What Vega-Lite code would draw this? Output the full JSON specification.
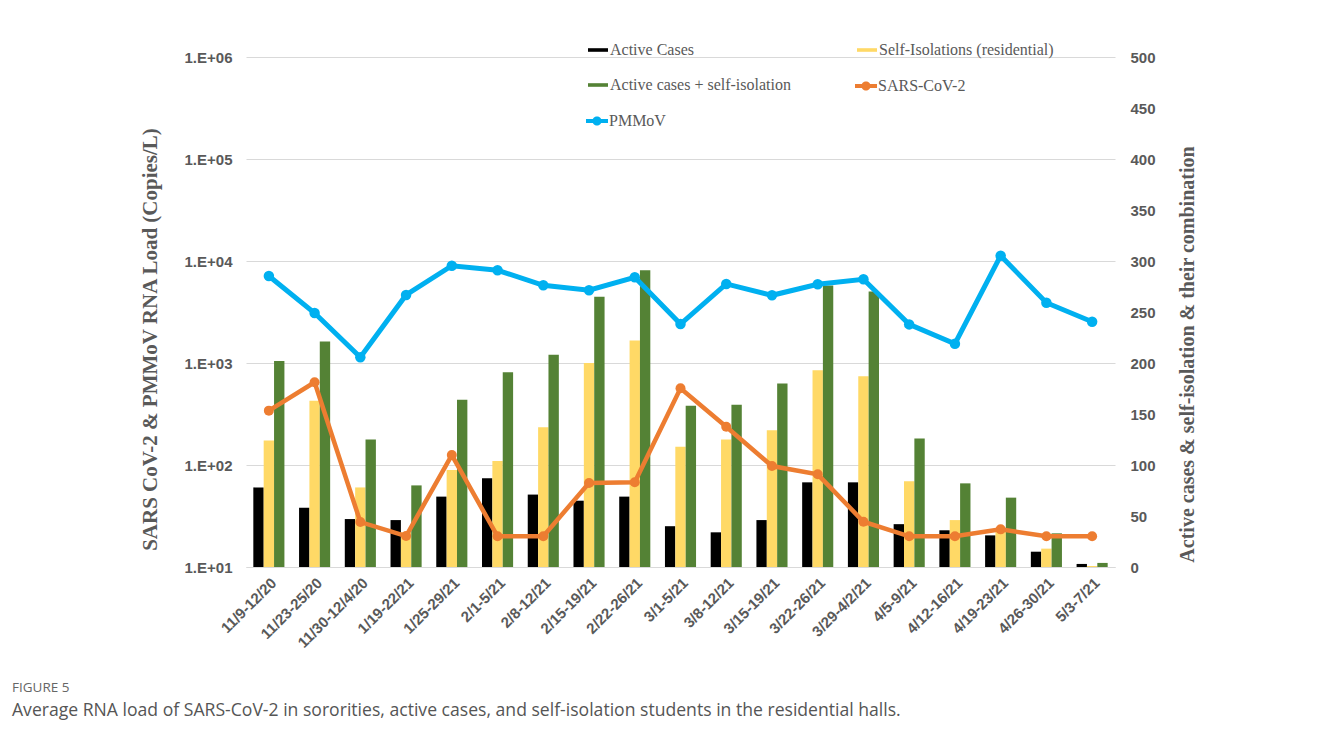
{
  "$schema": "https://vega.github.io/schema/vega-lite/v6.json",
  "autosize": {"type": "none"},
  "width": 869,
  "height": 510,
  "padding": {"left": 246, "top": 57, "right": 215, "bottom": 176},
  "background": "white",
  "config": {"font": "Liberation Sans", "view": {"stroke": null}},
  "title": {
    "text": "FIGURE 5",
    "subtitle": "Average RNA load of SARS-CoV-2 in sororities, active cases, and self-isolation students in the residential halls.",
    "orient": "bottom", "anchor": "start", "frame": "group", "dx": -234, "offset": 31,
    "font": "Open Sans", "fontSize": 13.5, "fontWeight": "normal", "color": "#666666",
    "subtitleFont": "Open Sans", "subtitleFontSize": 17.6, "subtitleColor": "#555555", "subtitlePadding": 7
  },
  "datasets": {
    "counts": [
      {"week": "11/9-12/20", "series": "Active Cases", "count": 78},
      {"week": "11/9-12/20", "series": "Self-Isolations (residential)", "count": 124},
      {"week": "11/9-12/20", "series": "Active cases + self-isolation", "count": 202},
      {"week": "11/23-25/20", "series": "Active Cases", "count": 58},
      {"week": "11/23-25/20", "series": "Self-Isolations (residential)", "count": 163},
      {"week": "11/23-25/20", "series": "Active cases + self-isolation", "count": 221},
      {"week": "11/30-12/4/20", "series": "Active Cases", "count": 47},
      {"week": "11/30-12/4/20", "series": "Self-Isolations (residential)", "count": 78},
      {"week": "11/30-12/4/20", "series": "Active cases + self-isolation", "count": 125},
      {"week": "1/19-22/21", "series": "Active Cases", "count": 46},
      {"week": "1/19-22/21", "series": "Self-Isolations (residential)", "count": 34},
      {"week": "1/19-22/21", "series": "Active cases + self-isolation", "count": 80},
      {"week": "1/25-29/21", "series": "Active Cases", "count": 69},
      {"week": "1/25-29/21", "series": "Self-Isolations (residential)", "count": 95},
      {"week": "1/25-29/21", "series": "Active cases + self-isolation", "count": 164},
      {"week": "2/1-5/21", "series": "Active Cases", "count": 87},
      {"week": "2/1-5/21", "series": "Self-Isolations (residential)", "count": 104},
      {"week": "2/1-5/21", "series": "Active cases + self-isolation", "count": 191},
      {"week": "2/8-12/21", "series": "Active Cases", "count": 71},
      {"week": "2/8-12/21", "series": "Self-Isolations (residential)", "count": 137},
      {"week": "2/8-12/21", "series": "Active cases + self-isolation", "count": 208},
      {"week": "2/15-19/21", "series": "Active Cases", "count": 65},
      {"week": "2/15-19/21", "series": "Self-Isolations (residential)", "count": 200},
      {"week": "2/15-19/21", "series": "Active cases + self-isolation", "count": 265},
      {"week": "2/22-26/21", "series": "Active Cases", "count": 69},
      {"week": "2/22-26/21", "series": "Self-Isolations (residential)", "count": 222},
      {"week": "2/22-26/21", "series": "Active cases + self-isolation", "count": 291},
      {"week": "3/1-5/21", "series": "Active Cases", "count": 40},
      {"week": "3/1-5/21", "series": "Self-Isolations (residential)", "count": 118},
      {"week": "3/1-5/21", "series": "Active cases + self-isolation", "count": 158},
      {"week": "3/8-12/21", "series": "Active Cases", "count": 34},
      {"week": "3/8-12/21", "series": "Self-Isolations (residential)", "count": 125},
      {"week": "3/8-12/21", "series": "Active cases + self-isolation", "count": 159},
      {"week": "3/15-19/21", "series": "Active Cases", "count": 46},
      {"week": "3/15-19/21", "series": "Self-Isolations (residential)", "count": 134},
      {"week": "3/15-19/21", "series": "Active cases + self-isolation", "count": 180},
      {"week": "3/22-26/21", "series": "Active Cases", "count": 83},
      {"week": "3/22-26/21", "series": "Self-Isolations (residential)", "count": 193},
      {"week": "3/22-26/21", "series": "Active cases + self-isolation", "count": 276},
      {"week": "3/29-4/2/21", "series": "Active Cases", "count": 83},
      {"week": "3/29-4/2/21", "series": "Self-Isolations (residential)", "count": 187},
      {"week": "3/29-4/2/21", "series": "Active cases + self-isolation", "count": 270},
      {"week": "4/5-9/21", "series": "Active Cases", "count": 42},
      {"week": "4/5-9/21", "series": "Self-Isolations (residential)", "count": 84},
      {"week": "4/5-9/21", "series": "Active cases + self-isolation", "count": 126},
      {"week": "4/12-16/21", "series": "Active Cases", "count": 36},
      {"week": "4/12-16/21", "series": "Self-Isolations (residential)", "count": 46},
      {"week": "4/12-16/21", "series": "Active cases + self-isolation", "count": 82},
      {"week": "4/19-23/21", "series": "Active Cases", "count": 31},
      {"week": "4/19-23/21", "series": "Self-Isolations (residential)", "count": 37},
      {"week": "4/19-23/21", "series": "Active cases + self-isolation", "count": 68},
      {"week": "4/26-30/21", "series": "Active Cases", "count": 15},
      {"week": "4/26-30/21", "series": "Self-Isolations (residential)", "count": 18},
      {"week": "4/26-30/21", "series": "Active cases + self-isolation", "count": 33},
      {"week": "5/3-7/21", "series": "Active Cases", "count": 3},
      {"week": "5/3-7/21", "series": "Self-Isolations (residential)", "count": 1},
      {"week": "5/3-7/21", "series": "Active cases + self-isolation", "count": 4}
    ],
    "rna": [
      {"week": "11/9-12/20", "target": "SARS-CoV-2", "load": 341},
      {"week": "11/23-25/20", "target": "SARS-CoV-2", "load": 647},
      {"week": "11/30-12/4/20", "target": "SARS-CoV-2", "load": 27.6},
      {"week": "1/19-22/21", "target": "SARS-CoV-2", "load": 20.1},
      {"week": "1/25-29/21", "target": "SARS-CoV-2", "load": 125},
      {"week": "2/1-5/21", "target": "SARS-CoV-2", "load": 20},
      {"week": "2/8-12/21", "target": "SARS-CoV-2", "load": 20},
      {"week": "2/15-19/21", "target": "SARS-CoV-2", "load": 66.7},
      {"week": "2/22-26/21", "target": "SARS-CoV-2", "load": 67.7},
      {"week": "3/1-5/21", "target": "SARS-CoV-2", "load": 565},
      {"week": "3/8-12/21", "target": "SARS-CoV-2", "load": 237},
      {"week": "3/15-19/21", "target": "SARS-CoV-2", "load": 97.7},
      {"week": "3/22-26/21", "target": "SARS-CoV-2", "load": 81},
      {"week": "3/29-4/2/21", "target": "SARS-CoV-2", "load": 27.8},
      {"week": "4/5-9/21", "target": "SARS-CoV-2", "load": 20},
      {"week": "4/12-16/21", "target": "SARS-CoV-2", "load": 20},
      {"week": "4/19-23/21", "target": "SARS-CoV-2", "load": 23.4},
      {"week": "4/26-30/21", "target": "SARS-CoV-2", "load": 20},
      {"week": "5/3-7/21", "target": "SARS-CoV-2", "load": 20},
      {"week": "11/9-12/20", "target": "PMMoV", "load": 7130},
      {"week": "11/23-25/20", "target": "PMMoV", "load": 3090},
      {"week": "11/30-12/4/20", "target": "PMMoV", "load": 1140},
      {"week": "1/19-22/21", "target": "PMMoV", "load": 4650},
      {"week": "1/25-29/21", "target": "PMMoV", "load": 8990},
      {"week": "2/1-5/21", "target": "PMMoV", "load": 8110},
      {"week": "2/8-12/21", "target": "PMMoV", "load": 5780},
      {"week": "2/15-19/21", "target": "PMMoV", "load": 5170},
      {"week": "2/22-26/21", "target": "PMMoV", "load": 6920},
      {"week": "3/1-5/21", "target": "PMMoV", "load": 2410},
      {"week": "3/8-12/21", "target": "PMMoV", "load": 5960},
      {"week": "3/15-19/21", "target": "PMMoV", "load": 4610},
      {"week": "3/22-26/21", "target": "PMMoV", "load": 5920},
      {"week": "3/29-4/2/21", "target": "PMMoV", "load": 6620},
      {"week": "4/5-9/21", "target": "PMMoV", "load": 2390},
      {"week": "4/12-16/21", "target": "PMMoV", "load": 1545},
      {"week": "4/19-23/21", "target": "PMMoV", "load": 11270},
      {"week": "4/26-30/21", "target": "PMMoV", "load": 3900},
      {"week": "5/3-7/21", "target": "PMMoV", "load": 2540}
    ]
  },
  "encoding": {
    "x": {
      "field": "week", "type": "nominal", "sort": null,
      "scale": {"paddingInner": 0.32, "paddingOuter": 0.16},
      "axis": {
        "title": null, "labelAngle": -45, "labelFontSize": 15, "labelFontWeight": "bold",
        "labelColor": "#595959", "labelPadding": 8, "ticks": false,
        "domainColor": "#d9d9d9", "domainWidth": 1, "grid": false
      }
    }
  },
  "layer": [
    {
      "data": {"name": "counts"},
      "mark": {"type": "bar"},
      "encoding": {
        "xOffset": {
          "field": "series", "type": "nominal",
          "sort": ["Active Cases", "Self-Isolations (residential)", "Active cases + self-isolation"],
          "scale": {"paddingInner": 0, "paddingOuter": 0}
        },
        "y": {
          "field": "count", "type": "quantitative",
          "scale": {"domain": [0, 500], "nice": false, "zero": true},
          "axis": {
            "orient": "right", "values": [0, 50, 100, 150, 200, 250, 300, 350, 400, 450, 500],
            "grid": false, "domain": false, "ticks": false,
            "labelFontSize": 15, "labelFontWeight": "bold", "labelColor": "#595959", "labelPadding": 15,
            "title": "Active cases & self-isolation & their combination",
            "titleFont": "Liberation Serif", "titleFontSize": 20, "titleFontWeight": "bold", "titleColor": "#595959",
            "titleAngle": 270, "titleAlign": "center", "titleBaseline": "middle", "titleX": 72, "titleY": 297
          }
        },
        "color": {
          "field": "series", "type": "nominal",
          "scale": {
            "domain": ["Active Cases", "Active cases + self-isolation", "Self-Isolations (residential)"],
            "range": ["#000000", "#548235", "#FFD966"]
          },
          "legend": {
            "orient": "none", "legendX": 342, "legendY": -17, "title": null, "columns": 2,
            "columnPadding": 66, "rowPadding": 17, "padding": 0,
            "symbolType": "M-1,-0.18H1V0.18H-1Z", "symbolSize": 400, "symbolStrokeWidth": 0,
            "labelFont": "Liberation Serif", "labelFontSize": 16, "labelColor": "#595959",
            "labelOffset": 2, "labelLimit": 300
          }
        }
      }
    },
    {
      "data": {"name": "rna"},
      "transform": [{"filter": "datum.target === 'SARS-CoV-2'"}],
      "mark": {"type": "line", "strokeWidth": 4.5, "point": {"filled": true, "size": 100}},
      "encoding": {
        "y": {
          "field": "load", "type": "quantitative",
          "scale": {"type": "log", "domain": [10, 1000000], "nice": false},
          "axis": {
            "orient": "left", "values": [10, 100, 1000, 10000, 100000, 1000000],
            "labelExpr": "'1.E+0' + round(log(datum.value) / LN10)",
            "grid": true, "gridColor": "#d9d9d9", "gridWidth": 1, "domain": false, "ticks": false,
            "labelFontSize": 15, "labelFontWeight": "bold", "labelColor": "#595959", "labelPadding": 14,
            "title": "SARS CoV-2 & PMMoV RNA Load (Copies/L)",
            "titleFont": "Liberation Serif", "titleFontSize": 21, "titleFontWeight": "bold", "titleColor": "#595959",
            "titleAngle": 270, "titleAlign": "center", "titleBaseline": "middle", "titleX": -96, "titleY": 282
          }
        },
        "color": {
          "field": "target", "type": "nominal",
          "scale": {"domain": ["SARS-CoV-2"], "range": ["#ED7D31"]},
          "legend": {
            "orient": "none", "legendX": 609, "legendY": 18, "title": null, "padding": 0,
            "symbolType": "M-1,-0.18H1V0.18H-1Z M-0.42,0A0.42,0.42 0 1,1 0.42,0A0.42,0.42 0 1,1 -0.42,0Z",
            "symbolSize": 484, "symbolStrokeWidth": 0,
            "labelFont": "Liberation Serif", "labelFontSize": 16, "labelColor": "#595959", "labelOffset": 1,
            "encode": {"symbols": {"update": {"fill": {"value": "#ED7D31"}, "stroke": {"value": "transparent"}}}}
          }
        }
      }
    },
    {
      "data": {"name": "rna"},
      "transform": [{"filter": "datum.target === 'PMMoV'"}],
      "mark": {"type": "line", "strokeWidth": 5, "point": {"filled": true, "size": 110}},
      "encoding": {
        "y": {
          "field": "load", "type": "quantitative",
          "scale": {"type": "log", "domain": [10, 1000000], "nice": false},
          "axis": null
        },
        "color": {
          "field": "target", "type": "nominal",
          "scale": {"domain": ["PMMoV"], "range": ["#00B0F0"]},
          "legend": {
            "orient": "none", "legendX": 340, "legendY": 53, "title": null, "padding": 0,
            "symbolType": "M-1,-0.18H1V0.18H-1Z M-0.42,0A0.42,0.42 0 1,1 0.42,0A0.42,0.42 0 1,1 -0.42,0Z",
            "symbolSize": 484, "symbolStrokeWidth": 0,
            "labelFont": "Liberation Serif", "labelFontSize": 16, "labelColor": "#595959", "labelOffset": 1,
            "encode": {"symbols": {"update": {"fill": {"value": "#00B0F0"}, "stroke": {"value": "transparent"}}}}
          }
        }
      }
    }
  ],
  "resolve": {
    "scale": {"y": "independent", "color": "independent"},
    "legend": {"color": "independent"},
    "axis": {"y": "independent"}
  }
}
